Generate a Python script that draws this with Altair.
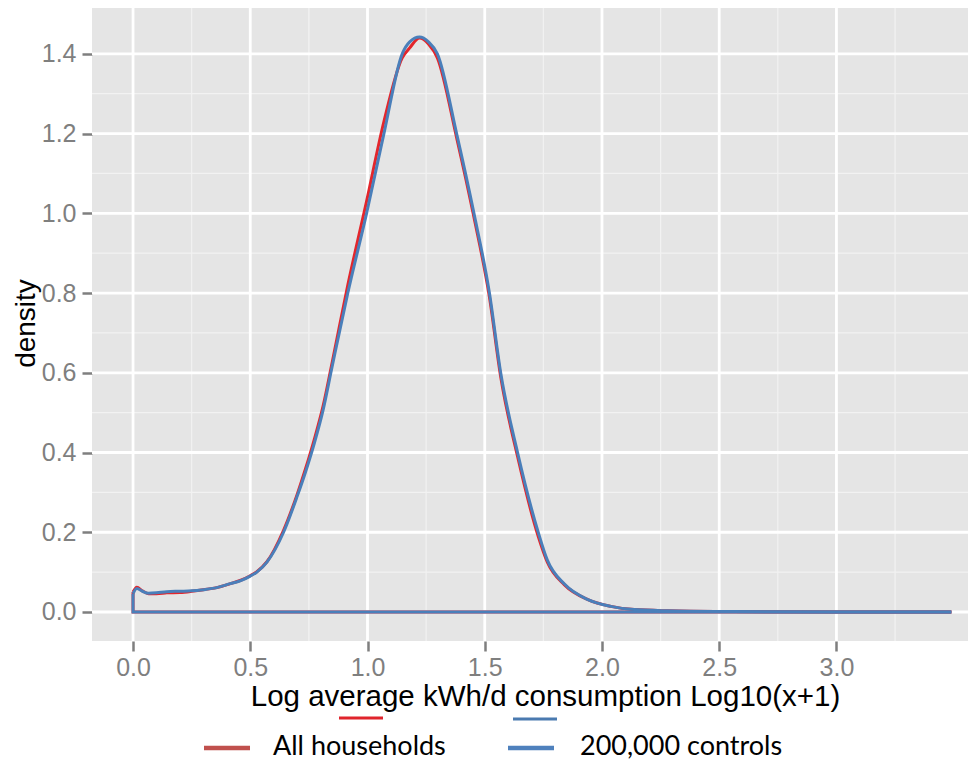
import altair as alt
import pandas as pd

# Density curve, "All households" (red)
x_all = [0.0, 0.016, 0.04, 0.066, 0.1, 0.144, 0.2, 0.25, 0.3, 0.357, 0.415, 0.457,
         0.5, 0.528, 0.571, 0.642, 0.7, 0.735, 0.774, 0.81, 0.849, 0.916, 0.996, 1.07, 1.148, 1.18,
         1.222, 1.26, 1.298, 1.38, 1.454, 1.52, 1.568, 1.64, 1.728, 1.767, 1.84, 1.94,
         2.038, 2.138, 2.28, 2.56, 3.0, 3.49]
y_all = [0.05, 0.062, 0.053, 0.046, 0.046, 0.048, 0.049, 0.052, 0.056, 0.061, 0.071, 0.079,
         0.091, 0.101, 0.126, 0.205, 0.295, 0.358, 0.435, 0.515, 0.625, 0.82, 1.03, 1.23, 1.39, 1.415,
         1.44, 1.425, 1.39, 1.19, 0.99, 0.79, 0.59, 0.39, 0.19, 0.125, 0.068, 0.031,
         0.014, 0.006, 0.003, 0.001, 0.0, 0.0]

# Density curve, "200,000 controls" (blue)
x_ctrl = [0.0, 0.016, 0.04, 0.066, 0.1, 0.144, 0.2, 0.25, 0.3, 0.357, 0.415, 0.457,
          0.5, 0.528, 0.571, 0.642, 0.7, 0.735, 0.774, 0.81, 0.849, 0.916, 0.996, 1.07, 1.148, 1.18,
          1.222, 1.26, 1.298, 1.38, 1.454, 1.52, 1.568, 1.64, 1.728, 1.767, 1.84, 1.94,
          2.038, 2.138, 2.28, 2.56, 3.0, 3.49]
y_ctrl = [0.046, 0.059, 0.052, 0.047, 0.048, 0.051, 0.052, 0.053, 0.056, 0.061, 0.071, 0.078,
          0.09, 0.1, 0.125, 0.2, 0.29, 0.35, 0.425, 0.505, 0.615, 0.8, 1.0, 1.2, 1.4, 1.43,
          1.442, 1.43, 1.4, 1.2, 1.0, 0.8, 0.6, 0.4, 0.2, 0.13, 0.07, 0.031,
          0.014, 0.006, 0.003, 0.001, 0.0, 0.0]

# Closing outline of the density polygon (baseline back to x=0, then up)
x_close = [3.49, 0.0, 0.0]
y_close_all = [0.0, 0.0, 0.05]
y_close_ctrl = [0.0, 0.0, 0.046]

x_major = [0.0, 0.5, 1.0, 1.5, 2.0, 2.5, 3.0]
x_minor = [0.25, 0.75, 1.25, 1.75, 2.25, 2.75, 3.25]
y_major = [0.0, 0.2, 0.4, 0.6, 0.8, 1.0, 1.2, 1.4]
y_minor = [0.1, 0.3, 0.5, 0.7, 0.9, 1.1, 1.3]

legend_labels = ["All households", "200,000 controls"]

RED = "#e3262c"
BLUE = "#4a7fba"
LEG_RED = "#c0504d"
LEG_BLUE = "#4f81bd"
FONT = "Liberation Sans"

xs = alt.Scale(domain=[-0.175, 3.561], nice=False, zero=False)
ys = alt.Scale(domain=[-0.0728, 1.515], nice=False, zero=False)

x_axis = alt.Axis(values=x_major, format=".1f", grid=False, domain=False,
                  tickSize=10, tickWidth=2.5, tickColor="#7f7f7f",
                  labelColor="#7f7f7f", labelFont=FONT, labelFontSize=25,
                  labelPadding=4, labelFlush=False, labelOverlap=False,
                  title="Log average kWh/d consumption Log10(x+1)",
                  titleFont=FONT, titleFontSize=29.5, titleFontWeight="normal",
                  titleColor="black", titleBaseline="alphabetic",
                  titleY=64, titleX=453)
y_axis = alt.Axis(values=y_major, format=".1f", grid=False, domain=False,
                  tickSize=10, tickWidth=2.5, tickColor="#7f7f7f",
                  labelColor="#7f7f7f", labelFont=FONT, labelFontSize=25,
                  labelPadding=6, labelFlush=False, labelOverlap=False,
                  title="density", titleFont=FONT, titleFontSize=28,
                  titleFontWeight="normal", titleColor="black",
                  titleBaseline="alphabetic", titleX=-58, titleY=315)


def df_of(xv, yv):
    return pd.DataFrame({"x": xv, "y": yv, "o": list(range(len(xv)))})


def enc(ch):
    return ch.encode(
        x=alt.X("x:Q", scale=xs, axis=x_axis),
        y=alt.Y("y:Q", scale=ys, axis=y_axis),
        order="o:Q")


minor_x = alt.Chart(pd.DataFrame({"x": x_minor})).mark_rule(color="#f2f2f2", strokeWidth=1.2).encode(
    x=alt.X("x:Q", scale=xs, axis=x_axis))
minor_y = alt.Chart(pd.DataFrame({"y": y_minor})).mark_rule(color="#f2f2f2", strokeWidth=1.2).encode(
    y=alt.Y("y:Q", scale=ys, axis=y_axis))
major_x = alt.Chart(pd.DataFrame({"x": x_major})).mark_rule(color="white", strokeWidth=2.8).encode(
    x=alt.X("x:Q", scale=xs, axis=x_axis))
major_y = alt.Chart(pd.DataFrame({"y": y_major})).mark_rule(color="white", strokeWidth=2.8).encode(
    y=alt.Y("y:Q", scale=ys, axis=y_axis))

close_all = enc(alt.Chart(df_of(x_close, y_close_all)).mark_line(color=RED, strokeWidth=3))
curve_all = enc(alt.Chart(df_of(x_all, y_all)).mark_line(
    color=RED, strokeWidth=3, interpolate="monotone", strokeJoin="round"))
close_ctrl = enc(alt.Chart(df_of(x_close, y_close_ctrl)).mark_line(color=BLUE, strokeWidth=3))
curve_ctrl = enc(alt.Chart(df_of(x_ctrl, y_ctrl)).mark_line(
    color=BLUE, strokeWidth=3, interpolate="monotone", strokeJoin="round"))

# Legend below the plot
leg_df0 = pd.DataFrame({"label": [legend_labels[0]]})
leg_df1 = pd.DataFrame({"label": [legend_labels[1]]})

stub_red = alt.Chart(leg_df0).mark_rule(color="#e0242c", strokeWidth=3).encode(
    x=alt.value(247), x2=alt.value(291), y=alt.value(710))
stub_blue = alt.Chart(leg_df1).mark_rule(color="#4a7ab0", strokeWidth=3).encode(
    x=alt.value(421), x2=alt.value(465), y=alt.value(711))
key_red = alt.Chart(leg_df0).mark_rule(color=LEG_RED, strokeWidth=4.5).encode(
    x=alt.value(112), x2=alt.value(158), y=alt.value(740))
key_blue = alt.Chart(leg_df1).mark_rule(color=LEG_BLUE, strokeWidth=4.5).encode(
    x=alt.value(416), x2=alt.value(462), y=alt.value(740))
txt_red = alt.Chart(leg_df0).mark_text(font="Lato", fontSize=27, align="left",
                                        baseline="alphabetic", color="black").encode(
    x=alt.value(181), y=alt.value(747), text="label:N")
txt_blue = alt.Chart(leg_df1).mark_text(font="Lato", fontSize=27, align="left",
                                         baseline="alphabetic", color="black").encode(
    x=alt.value(488), y=alt.value(747), text="label:N")

chart = alt.layer(
    minor_x, minor_y, major_x, major_y,
    close_all, curve_all, close_ctrl, curve_ctrl,
    stub_red, stub_blue, key_red, key_blue, txt_red, txt_blue
).properties(
    width=876, height=633,
    autosize=alt.AutoSizeParams(type="none"),
    padding={"left": 84, "top": 0, "right": 0, "bottom": 122},
).configure_view(fill="#e5e5e5", stroke=None)

chart.save("out.html", embed_options={"renderer": "svg", "actions": False})
